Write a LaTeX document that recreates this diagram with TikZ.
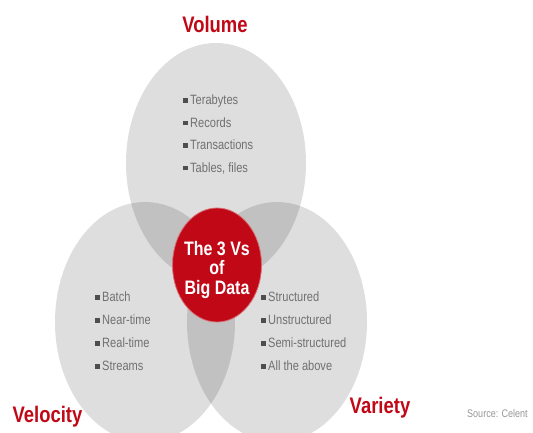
\documentclass[tikz,border=0pt]{standalone}
\usepackage{fontspec}
\usepackage{tikz}
\usetikzlibrary{shapes.geometric, positioning}

\setmainfont{Liberation Sans}
\newfontfamily\narrowfont[FakeStretch=0.82]{Liberation Sans}

\definecolor{vred}{RGB}{192,8,22}
\definecolor{itemgray}{RGB}{112,112,112}
\definecolor{bulletgray}{RGB}{78,78,78}
\definecolor{notegray}{RGB}{150,150,150}

\newcommand{\sqbul}{{\color{bulletgray}\rule[1.6pt]{4.5pt}{4.5pt}}\hspace{2.5pt}}

\tikzset{
	venn/.style={ellipse, minimum width=180pt, minimum height=240pt, inner sep=0pt, fill=black, fill opacity=0.13},
	core/.style={ellipse, minimum width=89pt, minimum height=114pt, inner sep=0pt, fill=vred, draw=vred!60!white, line width=0.8pt},
	vtitle/.style={anchor=base, inner sep=0pt, text=vred, font=\narrowfont\bfseries\fontsize{22.5}{24}\selectfont},
	item/.style={anchor=base west, inner sep=0pt, text=itemgray, font=\narrowfont\fontsize{13.5}{16}\selectfont},
}

\begin{document}
\begin{tikzpicture}[x=1pt, y=-1pt]
	\clip (0,0) rectangle (533,432);

	%% the three sets
	\node[venn](vol_set) at (216,163){};
	\node[venn](vel_set) at (145,322){};
	\node[venn](var_set) at (277,322){};

	\node[core](core) at (217,265){};
	\node[text=white, align=center, inner sep=0pt, yshift=-4.5pt, font=\narrowfont\bfseries\fontsize{19.5}{19.5}\selectfont](core_txt) at (core){The 3 Vs\\of\\Big Data};

	% VOLUME
	\node[vtitle](vol_title) at (215,32){Volume};
	\node[item](vol_1) at (183,104.5){\sqbul Terabytes};
	\node[item, below=22.5pt of vol_1.base west, anchor=base west](vol_2){\sqbul Records};
	\node[item, below=22.5pt of vol_2.base west, anchor=base west](vol_3){\sqbul Transactions};
	\node[item, below=22.5pt of vol_3.base west, anchor=base west](vol_4){\sqbul Tables, files};

	% VELOCITY
	\node[vtitle](vel_title) at (47.5,422){Velocity};
	\node[item](vel_1) at (95,301.5){\sqbul Batch};
	\node[item, below=23pt of vel_1.base west, anchor=base west](vel_2){\sqbul Near-time};
	\node[item, below=23pt of vel_2.base west, anchor=base west](vel_3){\sqbul Real-time};
	\node[item, below=23pt of vel_3.base west, anchor=base west](vel_4){\sqbul Streams};

	% VARIETY
	\node[vtitle](var_title) at (380,413){Variety};
	\node[item](var_1) at (261,301.5){\sqbul Structured};
	\node[item, below=23pt of var_1.base west, anchor=base west](var_2){\sqbul Unstructured};
	\node[item, below=23pt of var_2.base west, anchor=base west](var_3){\sqbul Semi-structured};
	\node[item, below=23pt of var_3.base west, anchor=base west](var_4){\sqbul All the above};

	%% source note
	\node[anchor=base west, inner sep=0pt, text=notegray, font=\narrowfont\fontsize{11}{13}\selectfont](source) at (467,417){Source: Celent};
\end{tikzpicture}
\end{document}
